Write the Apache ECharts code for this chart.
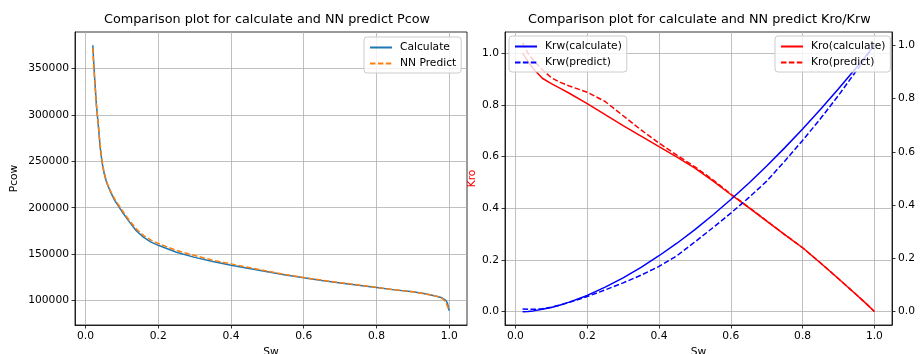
<!DOCTYPE html>
<html><head><meta charset="utf-8">
<script src="https://cdn.jsdelivr.net/npm/echarts@6/dist/echarts.min.js"></script>
<style>html,body{margin:0;padding:0;background:#fff}#c{width:921px;height:354px}</style>
</head><body><div id="c"></div>
<script>
// ---- data ----
const swPcow = [0.02,0.022,0.025,0.03,0.035,0.04,0.045,0.05,0.055,0.06,0.07,0.08,0.09,0.10,0.12,0.14,0.16,0.18,0.20,0.25,0.30,0.35,0.40,0.45,0.50,0.55,0.60,0.65,0.70,0.75,0.80,0.85,0.90,0.93,0.95,0.97,0.98,0.99,0.995,1.0];
const pcowCalc = [375000,360000,340000,310000,289000,266000,250000,239000,231000,225000,216000,208000,202000,196000,185000,175000,168000,163000,159500,152000,146500,142000,138000,134500,131000,127500,124500,121500,119000,116500,114000,111500,109500,107500,106000,104000,103000,100500,97500,89000];
const pcowPred = [372000,355000,338000,310000,290000,268000,251500,240500,232500,226000,217000,209500,203500,197500,186500,177000,170000,165000,161500,154000,148500,143500,139500,135500,131800,128000,124800,122000,119300,116800,114200,111600,109400,107400,106000,104000,102500,99000,94000,90000];

const swKr = [0.02,0.035,0.05,0.075,0.1,0.125,0.15,0.2,0.25,0.3,0.35,0.4,0.45,0.5,0.55,0.6,0.65,0.7,0.75,0.8,0.85,0.9,0.95,0.98,1.0];
const kroCalc = [1.0,0.968,0.94,0.903,0.882,0.864,0.845,0.805,0.762,0.72,0.679,0.638,0.598,0.555,0.506,0.453,0.402,0.35,0.298,0.247,0.188,0.127,0.065,0.027,0.0];
const kroPred = [1.04,1.0,0.972,0.936,0.905,0.887,0.873,0.849,0.813,0.758,0.703,0.652,0.605,0.56,0.51,0.455,0.404,0.351,0.298,0.247,0.188,0.127,0.065,0.027,0.0];
const krwCalc = [0.0,0.001,0.003,0.009,0.016,0.025,0.036,0.061,0.092,0.127,0.166,0.21,0.257,0.308,0.363,0.421,0.482,0.547,0.615,0.686,0.76,0.837,0.917,0.967,1.0];
const krwPred = [0.010,0.009,0.009,0.011,0.017,0.025,0.035,0.057,0.082,0.108,0.137,0.17,0.21,0.262,0.315,0.37,0.428,0.49,0.565,0.643,0.725,0.812,0.905,0.962,1.005];

const xTicks = [0,0.2,0.4,0.6,0.8,1.0];
const pcowTicks = [100000,150000,200000,250000,300000,350000];
const krTicks = [0,0.2,0.4,0.6,0.8,1.0];

const titles = ['Comparison plot for calculate and NN predict Pcow','Comparison plot for calculate and NN predict Kro/Krw'];

// ---- chart ----
const FONT = 'DejaVu Sans';
const FS = 10.7;
const zip = (xs, ys) => xs.map((x, i) => [x, ys[i]]);
const chart = echarts.init(document.getElementById('c'), null, {renderer: 'canvas'});

function xAxis(gi) {
  return {
    type: 'value', gridIndex: gi, min: -0.029, max: 1.049,
    name: 'Sw', nameLocation: 'middle', nameGap: 21,
    nameTextStyle: {fontFamily: FONT, fontSize: FS, color: '#000'},
    axisLine: {show: true, onZero: false, lineStyle: {color: '#000', width: 0.8}},
    axisTick: {show: true, length: 3.5, customValues: xTicks, lineStyle: {color: '#000', width: 0.8}},
    axisLabel: {customValues: xTicks, formatter: v => v.toFixed(1), fontFamily: FONT, fontSize: FS, color: '#000', margin: 6},
    splitLine: {show: true, lineStyle: {color: '#b0b0b0', width: 0.8}}
  };
}
const legendBase = {
  orient: 'vertical', itemWidth: 22, itemHeight: 10, itemGap: 5,
  padding: [5, 5, 4, 5],
  backgroundColor: 'rgba(255,255,255,0.8)', borderColor: '#cccccc', borderWidth: 1, borderRadius: 3,
  itemStyle: {opacity: 0},
  textStyle: {fontFamily: FONT, fontSize: FS, color: '#000', padding: [0, 0, 0, 3]}
};
const titleStyle = {fontFamily: FONT, fontSize: 12.8, fontWeight: 'normal', color: '#000'};

chart.setOption({
  animation: false,
  backgroundColor: '#fff',
  title: [
    {text: titles[0], left: 104, top: 13, padding: 0, textStyle: titleStyle},
    {text: titles[1], left: 528, top: 13, padding: 0, textStyle: titleStyle}
  ],
  grid: [
    {left: 75, top: 32, width: 392, height: 293, outerBoundsMode: 'none', containLabel: false, show: true, borderColor: '#000', borderWidth: 0.8, backgroundColor: 'transparent'},
    {left: 505, top: 32, width: 387, height: 293, outerBoundsMode: 'none', containLabel: false, show: true, borderColor: '#000', borderWidth: 0.8, backgroundColor: 'transparent'}
  ],
  xAxis: [xAxis(0), xAxis(1)],
  yAxis: [
    {type: 'value', gridIndex: 0, min: 73650, max: 389350,
     name: 'Pcow', nameLocation: 'middle', nameGap: 55,
     nameTextStyle: {fontFamily: FONT, fontSize: FS, color: '#000'},
     axisLine: {show: true, onZero: false, lineStyle: {color: '#000', width: 0.8}},
     axisTick: {show: true, length: 3.5, customValues: pcowTicks, lineStyle: {color: '#000', width: 0.8}},
     axisLabel: {customValues: pcowTicks, formatter: v => String(v), fontFamily: FONT, fontSize: FS, color: '#000', margin: 6},
     splitLine: {show: true, lineStyle: {color: '#b0b0b0', width: 0.8}}},
    {type: 'value', gridIndex: 1, min: -0.052, max: 1.082,
     name: 'Kro', nameLocation: 'middle', nameGap: 27,
     nameTextStyle: {fontFamily: FONT, fontSize: FS, color: '#ff0000'},
     axisLine: {show: true, onZero: false, lineStyle: {color: '#000', width: 0.8}},
     axisTick: {show: true, length: 3.5, customValues: krTicks, lineStyle: {color: '#000', width: 0.8}},
     axisLabel: {customValues: krTicks, formatter: v => v.toFixed(1), fontFamily: FONT, fontSize: FS, color: '#000', margin: 6},
     splitLine: {show: true, lineStyle: {color: '#b0b0b0', width: 0.8}}},
    {type: 'value', gridIndex: 1, position: 'right', min: -0.05, max: 1.05,
     axisLine: {show: true, onZero: false, lineStyle: {color: '#000', width: 0.8}},
     axisTick: {show: true, length: 3.5, customValues: krTicks, lineStyle: {color: '#000', width: 0.8}},
     axisLabel: {customValues: krTicks, formatter: v => v.toFixed(1), fontFamily: FONT, fontSize: FS, color: '#000', margin: 6},
     splitLine: {show: false}}
  ],
  legend: [
    Object.assign({}, legendBase, {left: 364, top: 37, data: ['Calculate', 'NN Predict']}),
    Object.assign({}, legendBase, {left: 509, top: 36, data: ['Krw(calculate)', 'Krw(predict)']}),
    Object.assign({}, legendBase, {left: 775, top: 36, data: ['Kro(calculate)', 'Kro(predict)']})
  ],
  series: [
    {name: 'Calculate', type: 'line', xAxisIndex: 0, yAxisIndex: 0, data: zip(swPcow, pcowCalc), symbol: 'none',
     lineStyle: {color: '#1f77b4', width: 1.5}, itemStyle: {color: '#1f77b4'}},
    {name: 'NN Predict', type: 'line', xAxisIndex: 0, yAxisIndex: 0, data: zip(swPcow, pcowPred), symbol: 'none',
     lineStyle: {color: '#ff7f0e', width: 1.5, type: [5.5, 2.4]}, itemStyle: {color: '#ff7f0e'}},
    {name: 'Kro(calculate)', type: 'line', xAxisIndex: 1, yAxisIndex: 1, data: zip(swKr, kroCalc), symbol: 'none',
     lineStyle: {color: '#ff0000', width: 1.5}, itemStyle: {color: '#ff0000'}},
    {name: 'Kro(predict)', type: 'line', xAxisIndex: 1, yAxisIndex: 1, data: zip(swKr, kroPred), symbol: 'none',
     lineStyle: {color: '#ff0000', width: 1.5, type: [5.5, 2.4]}, itemStyle: {color: '#ff0000'}},
    {name: 'Krw(calculate)', type: 'line', xAxisIndex: 1, yAxisIndex: 2, data: zip(swKr, krwCalc), symbol: 'none',
     lineStyle: {color: '#0000ff', width: 1.5}, itemStyle: {color: '#0000ff'}},
    {name: 'Krw(predict)', type: 'line', xAxisIndex: 1, yAxisIndex: 2, data: zip(swKr, krwPred), symbol: 'none',
     lineStyle: {color: '#0000ff', width: 1.5, type: [5.5, 2.4]}, itemStyle: {color: '#0000ff'}}
  ]
});
</script></body></html>
